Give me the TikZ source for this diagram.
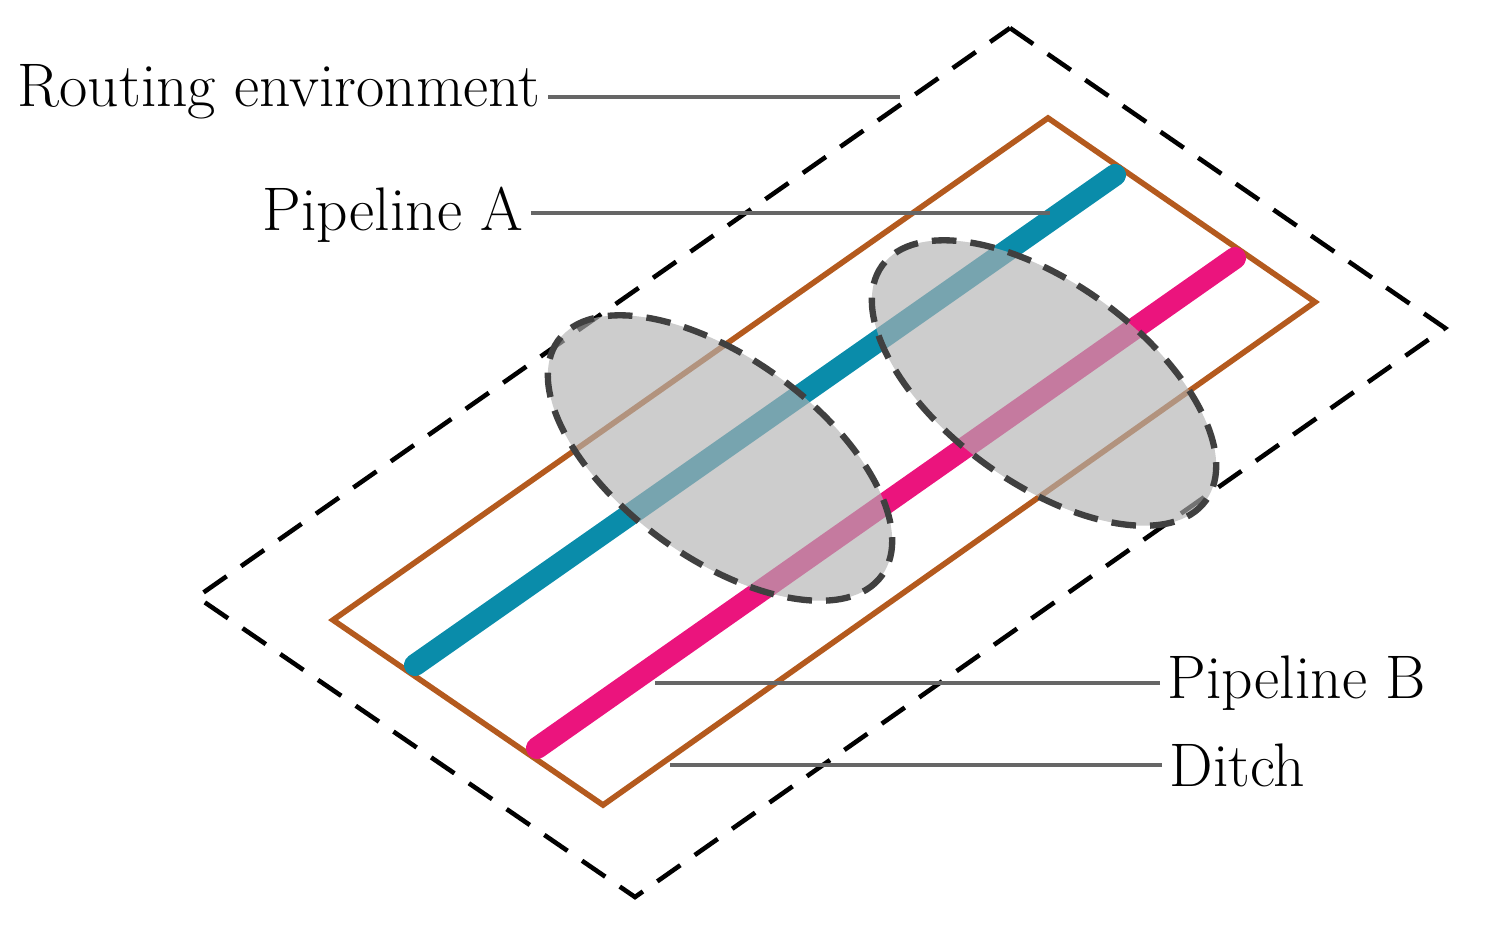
\documentclass[tikz,border=0pt]{standalone}
\begin{document}
\begin{tikzpicture}[x=0.01cm,y=-0.01cm,
  lbl/.style={font=\fontsize{17.5}{20}\selectfont,inner sep=2pt},
  lead/.style={draw=gray!80!black,line width=1.2pt},
  ell/.style={draw=black!75,line width=1.8pt,fill=gray!60,fill opacity=0.65,draw opacity=1,dash pattern=on 7pt off 4pt}]
\useasboundingbox (0,0) rectangle (1495,932);
\draw[line width=1.3pt,dash pattern=on 8pt off 5pt] (1010,28) -- (1445,328) -- (635,897) -- (197,597) -- cycle;
\draw[draw={rgb,255:red,180;green,90;blue,30},line width=1.6pt] (1048,118) -- (1315,302) -- (603,805) -- (333,620) -- cycle;
\draw[line width=2.2mm,line cap=round,draw={rgb,255:red,10;green,140;blue,170}] (415,665) -- (1115,175);
\draw[line width=2.2mm,line cap=round,draw={rgb,255:red,235;green,20;blue,125}] (537,748) -- (1235,258);
\path[ell] (720,458) ellipse[x radius=200,y radius=100,rotate=-36];
\path[ell] (1044,383) ellipse[x radius=200,y radius=100,rotate=-36];
\node[lbl,anchor=west] (re) at (10,92) {Routing environment};
\node[lbl,anchor=west] (pa) at (255,215) {Pipeline A};
\node[lbl,anchor=west] (pb) at (1160,683) {Pipeline B};
\node[lbl,anchor=west] (di) at (1162,765) {Ditch};
\coordinate (c1) at (900,97);
\coordinate (c2) at (1050,213);
\coordinate (c3) at (655,683);
\coordinate (c4) at (670,765);
\draw[lead] (re.east |- 0,97) -- (c1);
\draw[lead] (pa.east |- 0,213) -- (c2);
\draw[lead] (pb.west |- 0,683) -- (c3);
\draw[lead] (di.west |- 0,765) -- (c4);
\end{tikzpicture}
\end{document}
